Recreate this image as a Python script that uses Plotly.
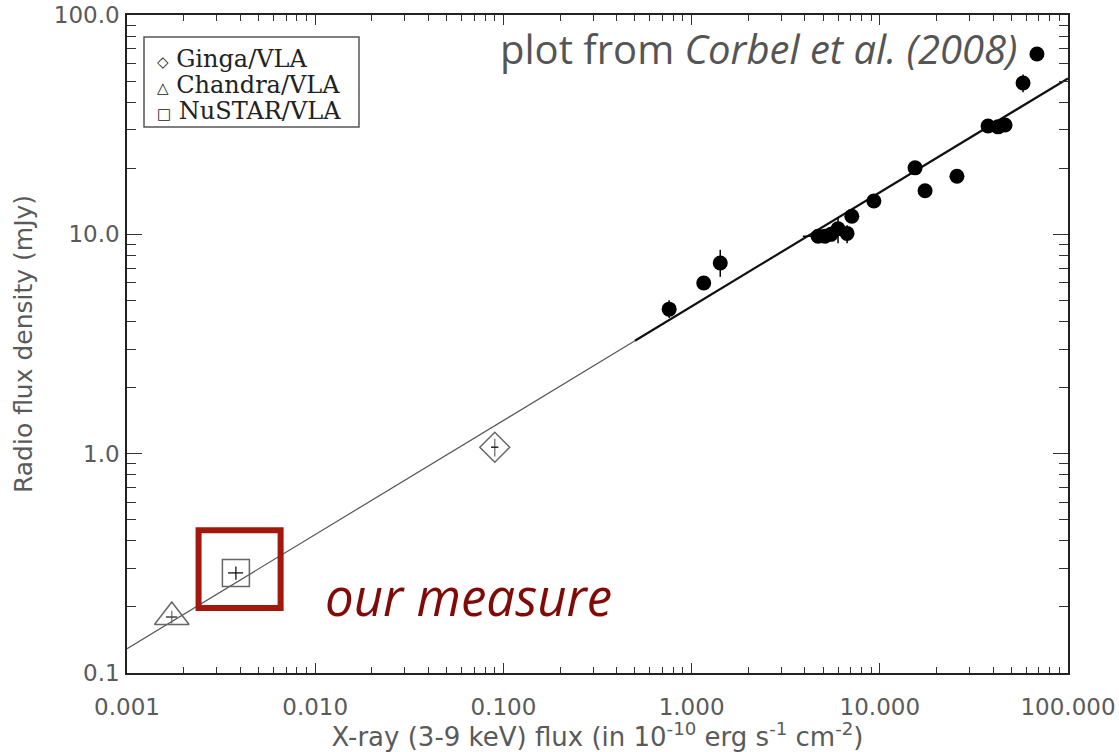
import plotly.graph_objects as go

# Radio / X-ray correlation points (filled circles)
xray_flux = [0.76, 1.16, 1.42, 4.70, 5.11, 5.5, 6.0, 6.7, 7.1, 9.3,
             15.4, 17.4, 25.7, 37.6, 42.5, 46.3, 57.7, 68.4]
radio_flux = [4.56, 6.0, 7.4, 9.8, 9.8, 10.0, 10.6, 10.1, 12.1, 14.2,
              20.1, 15.8, 18.4, 31.2, 30.9, 31.5, 49.0, 66.4]
radio_err_hi = [0.45, 0, 1.1, 0, 0, 0, 1.3, 0.9, 0, 0,
                0, 0, 0, 0, 0, 0, 4.5, 0]
radio_err_lo = [0.41, 0, 1.0, 0, 0, 0, 1.5, 1.0, 0, 0,
                0, 0, 0, 0, 0, 0, 4.5, 0]
xray_err_hi = [0, 0, 0, 0.2, 0, 0, 0, 0, 0, 0,
               1.3, 0, 0, 0, 0, 0, 0, 0]
xray_err_lo = [0, 0, 0, 0.8, 0, 0, 0, 0, 0, 0,
               1.3, 0, 0, 0, 0, 0, 0, 0]

# Quiescent measurements
ginga_x, ginga_y = [0.090], [1.07]
ginga_xerr, ginga_yerr = [0.004], [0.10]
chandra_x, chandra_y = [0.00173], [0.180]
chandra_xerr, chandra_yerr = [0.00012], [0.012]
nustar_x, nustar_y = [0.00379], [0.286]
nustar_xerr, nustar_yerr = [0.00035], [0.02]

# Power-law fit  S_radio = norm * F_X ** index
fit_norm = 4.69
fit_index = 0.52
fit_x_thin = [0.001, 0.5]
fit_x_thick = [0.5, 100.0]

x_tickvals = [0.001, 0.01, 0.1, 1, 10, 100]
x_ticktext = ["0.001", "0.010", "0.100", "1.000", "10.000", "100.000"]
y_tickvals = [0.1, 1, 10, 100]
y_ticktext = ["0.1", "1.0", "10.0", "100.0"]

# Key entries: glyph, label
key_glyphs = ["\u25c7", "\u25b3", "\u25a1"]
key_labels = ["Ginga/VLA", "Chandra/VLA", "NuSTAR/VLA"]

# Highlight box around the new point (data units)
box_x = [0.00240, 0.00655]
box_y = [0.198, 0.447]

GREY = "#666666"
AXIS_FONT = "DejaVu Sans"
TEXT_GREY = "#5a5a5a"

# plot area in pixels (used to place paper-referenced text)
PLOT_L, PLOT_R, PLOT_T, PLOT_B = 127, 1068, 15, 673


def px_to_paper(px, py):
    return ((px - PLOT_L) / (PLOT_R - PLOT_L), 1 - (py - PLOT_T) / (PLOT_B - PLOT_T))


def power_law(xs):
    return [fit_norm * x ** fit_index for x in xs]


fig = go.Figure()

fig.add_trace(go.Scatter(
    x=fit_x_thin, y=power_law(fit_x_thin), mode="lines",
    line=dict(color="#555555", width=1.2), showlegend=False, hoverinfo="skip"))
fig.add_trace(go.Scatter(
    x=fit_x_thick, y=power_law(fit_x_thick), mode="lines",
    line=dict(color="#111111", width=2.2), showlegend=False, hoverinfo="skip"))

fig.add_trace(go.Scatter(
    x=xray_flux, y=radio_flux, mode="markers", name="Corbel et al. (2008)",
    marker=dict(symbol="circle", size=15, color="black"),
    error_y=dict(type="data", symmetric=False, array=radio_err_hi,
                 arrayminus=radio_err_lo, color="black", thickness=1.5, width=0),
    error_x=dict(type="data", symmetric=False, array=xray_err_hi,
                 arrayminus=xray_err_lo, color="black", thickness=1.5, width=0),
    showlegend=False))

open_style = dict(color="rgba(0,0,0,0)", line=dict(color=GREY, width=1.5))

fig.add_trace(go.Scatter(
    x=ginga_x, y=ginga_y, mode="markers", name=key_labels[0], showlegend=False,
    marker=dict(symbol="diamond", size=23, **open_style),
    error_y=dict(type="data", array=ginga_yerr, color=GREY, thickness=1.2, width=0),
    error_x=dict(type="data", array=ginga_xerr, color="#222222", thickness=1.5, width=0)))
fig.add_trace(go.Scatter(
    x=chandra_x, y=chandra_y, mode="markers", name=key_labels[1], showlegend=False,
    marker=dict(symbol="triangle-up", size=30, **open_style),
    error_y=dict(type="data", array=chandra_yerr, color=GREY, thickness=1.2, width=0),
    error_x=dict(type="data", array=chandra_xerr, color="#444444", thickness=1.5, width=0)))
fig.add_trace(go.Scatter(
    x=nustar_x, y=nustar_y, mode="markers", name=key_labels[2], showlegend=False,
    marker=dict(symbol="square", size=27, **open_style),
    error_y=dict(type="data", array=nustar_yerr, color="#111111", thickness=1.3, width=0),
    error_x=dict(type="data", array=nustar_xerr, color="#111111", thickness=1.3, width=0)))

fig.add_shape(type="rect", xref="x", yref="y",
              x0=box_x[0], x1=box_x[1], y0=box_y[0], y1=box_y[1],
              line=dict(color="#a3180c", width=6), fillcolor="rgba(0,0,0,0)")

# key box with symbol glyphs
kx0, ky0 = px_to_paper(144, 37)
kx1, ky1 = px_to_paper(359, 127)
fig.add_shape(type="rect", xref="paper", yref="paper", x0=kx0, x1=kx1, y0=ky1, y1=ky0,
              line=dict(color="#555555", width=1.5), fillcolor="white")
for i, (glyph, label) in enumerate(zip(key_glyphs, key_labels)):
    tx, ty = px_to_paper(155, 59 + 26 * i)
    fig.add_annotation(
        xref="paper", yref="paper", x=tx, y=ty, xanchor="left", yanchor="middle",
        text=f"<span style='font-size:15px'>{glyph}</span> {label}", showarrow=False,
        font=dict(family="DejaVu Serif", size=24, color="#222222"))

mx, my = px_to_paper(323, 596)
fig.add_annotation(
    xref="paper", yref="paper", x=mx, y=my, xanchor="left", yanchor="middle",
    text="<i>our measure</i>", showarrow=False,
    font=dict(family="Open Sans", size=51, color="#7f0a08"))

cx, cy = px_to_paper(1019, 49)
fig.add_annotation(
    xref="paper", yref="paper", x=cx, y=cy, xanchor="right", yanchor="middle",
    text="plot from <i>Corbel et al. (2008)</i>", showarrow=False,
    font=dict(family="Open Sans", size=40, color="#555555"))

axis_common = dict(
    type="log", showline=True, linecolor="#222222", linewidth=1.5, mirror="allticks",
    ticks="inside", tickcolor="#333333", tickwidth=1.2, showgrid=False, zeroline=False,
    automargin=False,
    tickfont=dict(family=AXIS_FONT, size=23, color=TEXT_GREY),
)

fig.update_xaxes(
    range=[-3, 2], tickvals=x_tickvals, ticktext=x_ticktext, ticklen=10,
    minor=dict(ticks="inside", ticklen=6, tickcolor="#333333", dtick="D1", showgrid=False),
    ticklabelstandoff=13,
    title=dict(text="X-ray (3-9 keV) flux (in 10<sup>-10</sup> erg s<sup>-1</sup> cm<sup>-2</sup>)",
               font=dict(family=AXIS_FONT, size=26, color=TEXT_GREY), standoff=2),
    **axis_common)
fig.update_yaxes(
    range=[-1, 2], tickvals=y_tickvals, ticktext=y_ticktext, ticklen=15,
    minor=dict(ticks="inside", ticklen=9, tickcolor="#333333", dtick="D1", showgrid=False),
    ticklabelstandoff=1,
    title=dict(text="Radio flux density (mJy)",
               font=dict(family=AXIS_FONT, size=25, color=TEXT_GREY), standoff=14),
    **axis_common)

fig.update_layout(
    width=1119, height=752,
    margin=dict(l=127, r=51, t=15, b=79),
    paper_bgcolor="white", plot_bgcolor="white",
    showlegend=False,
)

fig.write_html("out.html")
